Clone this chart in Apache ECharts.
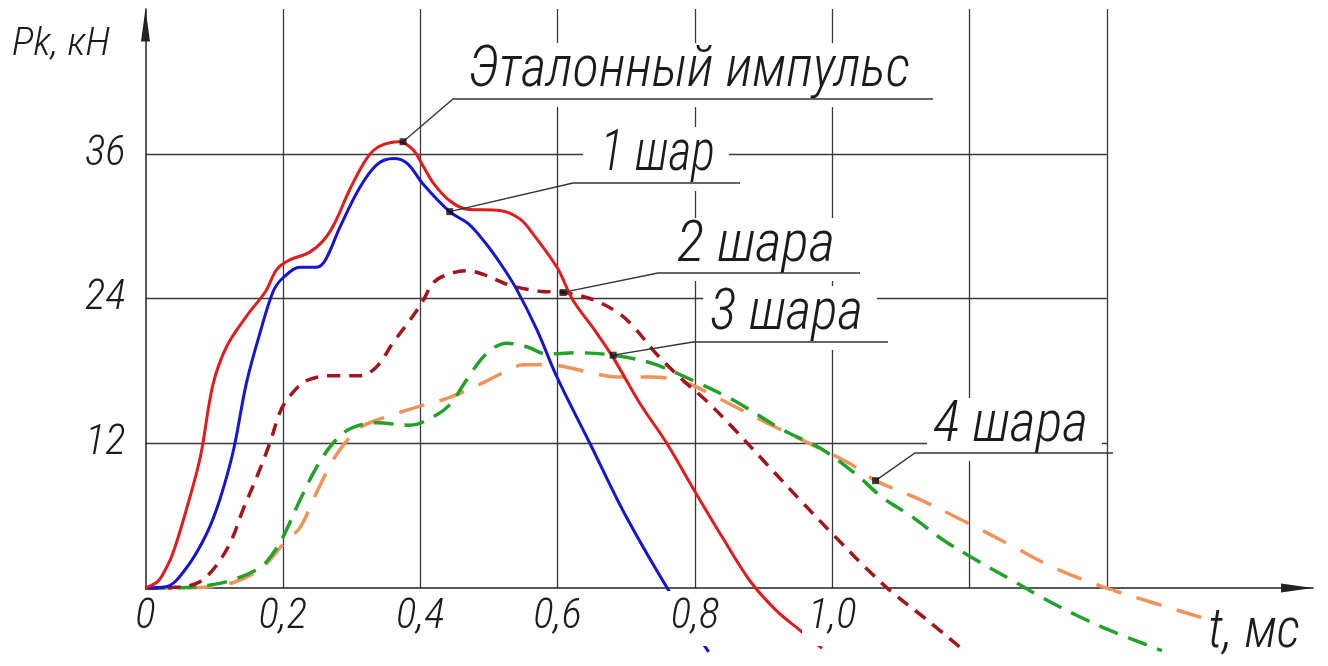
<!DOCTYPE html>
<html>
<head>
<meta charset="utf-8">
<script src="https://cdn.jsdelivr.net/npm/echarts@6.0.0/dist/echarts.min.js"></script>
<style>
  html, body { margin: 0; padding: 0; background: #fff; }
  #chart { width: 1328px; height: 666px; }
</style>
</head>
<body>
<div id="chart"></div>
<script>
// Tick labels
const timeTickLabels = ['0', '0,2', '0,4', '0,6', '0,8', '1,0'];
const pressureTickLabels = ['', '12', '24', '36', ''];

// Contact force Pk (kN) versus time t (ms)
const referencePulse = [
  [0, 0], [0.017, 0.5], [0.026, 1.2], [0.04, 2.9], [0.06, 6.6], [0.08, 10.9], [0.098, 16.8],
  [0.118, 20.0], [0.148, 22.6], [0.175, 24.6], [0.191, 26.4], [0.21, 27.2], [0.238, 27.8],
  [0.259, 28.8], [0.275, 30.2], [0.298, 33.1], [0.322, 35.6], [0.34, 36.6], [0.37, 37.0],
  [0.39, 36.3], [0.404, 35.0], [0.42, 33.5], [0.443, 32.1], [0.468, 31.4], [0.516, 31.3],
  [0.545, 30.6], [0.565, 29.3], [0.6, 26.5], [0.622, 23.9], [0.655, 21.3], [0.681, 19.1],
  [0.72, 15.3], [0.759, 12.0], [0.8, 8.0], [0.84, 4.2], [0.88, 0.6], [0.919, -1.9],
  [0.953, -3.5], [0.985, -5.0]
];
const oneBall = [
  [0, 0], [0.03, 0.1], [0.06, 1.7], [0.089, 4.5], [0.108, 7.3], [0.128, 11.4], [0.147, 17.0],
  [0.167, 21.2], [0.186, 24.6], [0.2, 25.7], [0.225, 26.6], [0.249, 26.6], [0.262, 27.2],
  [0.283, 29.9], [0.312, 33.2], [0.337, 35.1], [0.361, 35.6], [0.381, 35.2], [0.404, 33.5],
  [0.443, 31.2], [0.47, 30.2], [0.495, 28.6], [0.518, 26.8], [0.54, 24.8], [0.57, 21.4],
  [0.599, 17.5], [0.647, 12.0], [0.7, 5.9], [0.766, -0.6], [0.82, -5.3]
];
const twoBalls = [
  [0, 0], [0.04, 0.05], [0.075, 0.4], [0.098, 1.5], [0.123, 3.7], [0.142, 6.5], [0.162, 9.2],
  [0.181, 12.0], [0.196, 14.6], [0.21, 15.9], [0.235, 17.2], [0.273, 17.6], [0.312, 17.6],
  [0.336, 18.3], [0.36, 20.3], [0.385, 22.2], [0.404, 23.8], [0.419, 25.3], [0.44, 26.0],
  [0.468, 26.3], [0.492, 26.0], [0.531, 25.1], [0.574, 24.6], [0.608, 24.5], [0.647, 24.0],
  [0.686, 22.9], [0.71, 21.7], [0.744, 19.4], [0.783, 17.2], [0.817, 15.5], [0.855, 13.3],
  [0.904, 10.3], [0.953, 7.3], [1.0, 4.5], [1.05, 1.6], [1.088, -0.4], [1.137, -2.6], [1.19, -5.1]
];
const threeBalls = [
  [0, 0], [0.06, 0.05], [0.1, 0.3], [0.128, 0.7], [0.167, 1.7], [0.186, 2.9], [0.2, 4.2],
  [0.225, 7.3], [0.249, 10.0], [0.273, 12.0], [0.298, 13.2], [0.336, 13.7], [0.385, 13.5],
  [0.419, 14.2], [0.443, 15.2], [0.467, 17.2], [0.496, 19.4], [0.526, 20.3], [0.555, 20.0],
  [0.584, 19.4], [0.628, 19.5], [0.681, 19.3], [0.739, 18.6], [0.797, 17.2], [0.855, 15.6],
  [0.928, 13.1], [0.982, 11.6], [1.033, 9.5], [1.073, 7.5], [1.114, 6.0], [1.161, 4.0],
  [1.21, 2.3], [1.26, 0.7], [1.306, -0.8], [1.357, -2.3], [1.408, -3.6], [1.48, -5.2]
];
const fourBalls = [
  [0, 0], [0.08, 0.05], [0.13, 0.5], [0.17, 1.7], [0.206, 4.0], [0.225, 5.0], [0.249, 7.9],
  [0.273, 10.6], [0.293, 12.2], [0.312, 13.3], [0.346, 14.1], [0.395, 15.0], [0.443, 15.8],
  [0.491, 17.0], [0.526, 18.0], [0.55, 18.5], [0.589, 18.5], [0.637, 18.0], [0.686, 17.5],
  [0.734, 17.5], [0.783, 17.1], [0.832, 15.8], [0.904, 13.7], [0.977, 11.7], [1.026, 10.3],
  [1.063, 8.9], [1.123, 7.45], [1.19, 5.6], [1.258, 3.6], [1.324, 1.65], [1.394, 0.1],
  [1.466, -1.2], [1.535, -2.4], [1.585, -3.2]
];

// Callout captions and the curve points they point at
const calloutNames = ['Эталонный импульс', '1 шар', '2 шара', '3 шара', '4 шара'];
const calloutAnchors = [[0.375, 37.0], [0.443, 31.2], [0.608, 24.5], [0.681, 19.3], [1.063, 8.9]];

// Caption placement: leader elbow, underline end, text span, cap-height middle, box padding (px)
const calloutLayout = [
  { elbow: [453, 99],  lineEnd: 933,  textLeft: 468, textRight: 910,  capMid: 71,  padL: 12 },
  { elbow: [573, 183], lineEnd: 740,  textLeft: 600, textRight: 715,  capMid: 155, padL: 17 },
  { elbow: [658, 273], lineEnd: 860,  textLeft: 677, textRight: 835,  capMid: 246, padL: 10 },
  { elbow: [693, 342], lineEnd: 888,  textLeft: 710, textRight: 863,  capMid: 314, padL: 7 },
  { elbow: [915, 453], lineEnd: 1113, textLeft: 933, textRight: 1088, capMid: 426, padL: 6 }
];

const FONT_FAMILY = '"Roboto Condensed", "Liberation Sans Narrow", "DejaVu Sans Condensed", Roboto, "Liberation Sans", sans-serif';
const INK = '#1b1b1b';
const GRID_COLOR = '#3a3a3a';

// Plot scale: 1.4 ms spans the ruled area; the curves' own axis keeps the same scale out to the arrow
const PLOT_LEFT = 145.5, RULED_RIGHT = 1107, TIME_RULED = 1.4, TIME_ARROW = 1.7;
const pxPerMs = (RULED_RIGHT - PLOT_LEFT) / TIME_RULED;
const arrowRight = 1328 - (PLOT_LEFT + pxPerMs * TIME_ARROW);

const chart = echarts.init(document.getElementById('chart'), null, { renderer: 'canvas' });

function curve(name, data, color, dash) {
  return {
    name, type: 'line', data, xAxisIndex: 2, yAxisIndex: 1,
    smooth: 0.35, showSymbol: false, clip: false, silent: true,
    lineStyle: { color, width: dash ? 3.5 : 3, type: dash || 'solid', cap: 'butt' },
    z: 3
  };
}

const tickLabelStyle = {
  fontFamily: FONT_FAMILY, fontStyle: 'italic', fontWeight: 300, fontSize: 43, color: INK
};

chart.setOption({
  animation: false,
  backgroundColor: '#fff',
  grid: [
    { left: PLOT_LEFT, right: 1328 - RULED_RIGHT, top: 9, bottom: 78 },
    { left: PLOT_LEFT, right: arrowRight, top: 9, bottom: 78 }
  ],
  xAxis: [
    {
      type: 'value', gridIndex: 0, min: 0, max: TIME_RULED, interval: 0.2,
      axisLine: { show: false }, axisTick: { show: false }, axisLabel: { show: false },
      splitLine: { show: true, showMinLine: false, showMaxLine: true,
        lineStyle: { color: GRID_COLOR, width: 1.3 } }
    },
    {
      type: 'value', gridIndex: 0, min: 0, max: TIME_RULED, interval: 0.2, position: 'bottom', z: 10,
      axisLine: { show: false }, axisTick: { show: false }, splitLine: { show: false },
      axisLabel: {
        show: true, margin: 3, ...tickLabelStyle,
        backgroundColor: '#fff', padding: [3, 6, 6, 6], lineHeight: 46,
        formatter: v => timeTickLabels[Math.round(v / 0.2)] || ''
      }
    },
    {
      type: 'value', gridIndex: 1, min: 0, max: TIME_ARROW,
      axisLine: { show: true, symbol: ['none', 'triangle'], symbolSize: [9, 32], symbolOffset: [0, -16],
        lineStyle: { color: '#222', width: 1.5 } },
      axisTick: { show: false }, axisLabel: { show: false }, splitLine: { show: false }
    }
  ],
  yAxis: [
    {
      type: 'value', gridIndex: 0, min: 0, max: 48, interval: 12,
      axisLine: { show: true, symbol: ['none', 'triangle'], symbolSize: [9, 33], symbolOffset: [0, -16],
        lineStyle: { color: '#222', width: 1.5 } },
      axisTick: { show: false },
      axisLabel: { show: true, margin: 20, ...tickLabelStyle,
        formatter: v => pressureTickLabels[Math.round(v / 12)] || '' },
      splitLine: { show: true, showMinLine: false, showMaxLine: false,
        lineStyle: { color: GRID_COLOR, width: 1.3 } }
    },
    { type: 'value', gridIndex: 1, min: 0, max: 48, show: false }
  ],
  series: [
    curve('4 шара', fourBalls, '#f0925c', [26, 16]),
    curve('3 шара', threeBalls, '#22a22a', [20, 11]),
    curve('2 шара', twoBalls, '#a3141c', [13, 9]),
    curve('1 шар', oneBall, '#1414d2', null),
    curve('Эталонный импульс', referencePulse, '#e21b1b', null),
    {
      name: 'callout anchors', type: 'scatter', data: calloutAnchors, xAxisIndex: 2, yAxisIndex: 1,
      symbol: 'rect', symbolSize: 7, itemStyle: { color: '#111' }, clip: false, silent: true, z: 30
    }
  ]
});

// Text that fills a given width: measure with the same font and stretch horizontally
const measureCtx = document.createElement('canvas').getContext('2d');
function widthScale(text, font, width) {
  measureCtx.font = font;
  return width / measureCtx.measureText(text).width;
}

const CALLOUT_FONT_SIZE = 58;
const calloutFont = 'italic 300 ' + CALLOUT_FONT_SIZE + 'px ' + FONT_FAMILY;
const capHalf = CALLOUT_FONT_SIZE * 0.36;
const graphics = [];

calloutNames.forEach((name, i) => {
  const lay = calloutLayout[i];
  const anchorPx = chart.convertToPixel({ xAxisIndex: 2, yAxisIndex: 1 }, calloutAnchors[i]);
  const boxTop = lay.capMid - capHalf - 7;
  graphics.push({
    type: 'rect', silent: true, z: 20,
    shape: { x: lay.textLeft - lay.padL, y: boxTop,
      width: lay.textRight - lay.textLeft + lay.padL + 14, height: lay.elbow[1] + 8 - boxTop },
    style: { fill: '#fff' }
  });
  graphics.push({
    type: 'text', silent: true, z: 21,
    x: lay.textLeft, y: lay.capMid,
    scaleX: widthScale(name, calloutFont, lay.textRight - lay.textLeft),
    style: { text: name, font: calloutFont, fill: INK, align: 'left', verticalAlign: 'middle' }
  });
  graphics.push({
    type: 'polyline', silent: true, z: 22,
    shape: { points: [anchorPx, lay.elbow, [lay.lineEnd, lay.elbow[1]]] },
    style: { stroke: '#333', lineWidth: 1.3, fill: null }
  });
});

// Axis titles
const yTitleFont = 'italic 300 38px ' + FONT_FAMILY;
graphics.push({
  type: 'text', silent: true, z: 21, x: 12, y: 45,
  scaleX: widthScale('Pk, кН', yTitleFont, 98),
  style: { text: 'Pk, кН', font: yTitleFont, fill: INK, align: 'left', verticalAlign: 'middle' }
});
const xTitleFont = 'italic 300 56px ' + FONT_FAMILY;
graphics.push({
  type: 'rect', silent: true, z: 20,
  shape: { x: 1203, y: 594, width: 104, height: 70 }, style: { fill: '#fff' }
});
graphics.push({
  type: 'text', silent: true, z: 21, x: 1208, y: 633,
  scaleX: widthScale('t, мс', xTitleFont, 92),
  style: { text: 't, мс', font: xTitleFont, fill: INK, align: 'left', verticalAlign: 'middle' }
});

chart.setOption({ graphic: graphics });
</script>
</body>
</html>
